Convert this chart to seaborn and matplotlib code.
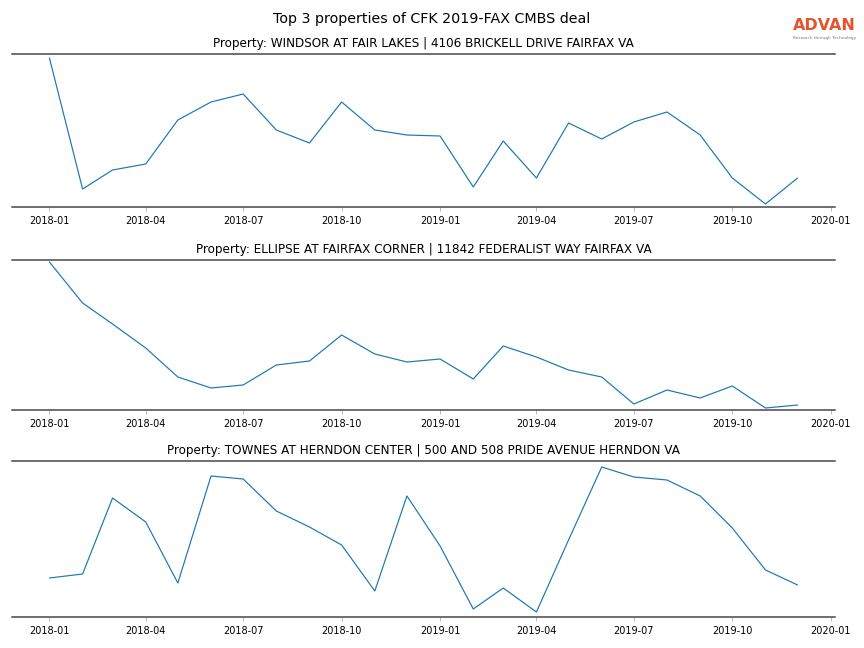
import matplotlib
matplotlib.use("Agg")
import matplotlib.pyplot as plt
import matplotlib.dates as mdates
import pandas as pd
import seaborn as sns

months = pd.date_range("2018-01-01", "2019-12-01", freq="MS")

property_titles = [
    "Property: WINDSOR AT FAIR LAKES | 4106 BRICKELL DRIVE FAIRFAX VA",
    "Property: ELLIPSE AT FAIRFAX CORNER | 11842 FEDERALIST WAY FAIRFAX VA",
    "Property: TOWNES AT HERNDON CENTER | 500 AND 508 PRIDE AVENUE HERNDON VA",
]

windsor_visits = [1490, 180, 370, 430, 870, 1050, 1130, 770, 640, 1050, 770, 720,
                  710, 200, 660, 290, 840, 680, 850, 950, 720, 290, 30, 290]
ellipse_visits = [1480, 1070, 860, 620, 330, 220, 250, 450, 490, 750, 560, 480,
                  510, 310, 640, 530, 400, 330, 60, 200, 120, 240, 20, 50]
townes_visits = [390, 430, 1190, 950, 340, 1410, 1380, 1060, 900, 720, 260, 1210,
                 710, 80, 290, 50, 770, 1500, 1400, 1370, 1210, 890, 470, 320]

# y limits (axes are unlabeled)
y_limits = [(0, 1530), (0, 1500), (0, 1560)]

# axes boxes in pixels: (top, bottom)
W, H = 864, 648
ax_rows = [(54, 207), (260, 410), (461, 617)]
ax_left, ax_right = 12, 835

sns.set_style("white")
plt.rcParams["font.family"] = ["DejaVu Sans"]
plt.rcParams["text.color"] = "black"
plt.rcParams["xtick.color"] = "#aaaaaa"
plt.rcParams["xtick.labelcolor"] = "black"

fig = plt.figure(figsize=(W / 72, H / 72), dpi=72)

series = [windsor_visits, ellipse_visits, townes_visits]
for (top, bottom), title, values, ylim in zip(ax_rows, property_titles, series, y_limits):
    ax = fig.add_axes([ax_left / W, 1 - bottom / H, (ax_right - ax_left) / W, (bottom - top) / H])
    df = pd.DataFrame({"month": months, "visits": values})
    sns.lineplot(data=df, x="month", y="visits", ax=ax, color="#1f77b4", linewidth=1.2)
    ax.set_ylim(*ylim)
    ax.set_yticks([])
    ax.set_xlabel("")
    ax.set_ylabel("")
    ax.set_title(title, fontsize=12, pad=7, color="black")
    ax.xaxis.set_major_locator(mdates.MonthLocator(bymonth=[1, 4, 7, 10]))
    ax.xaxis.set_major_formatter(mdates.DateFormatter("%Y-%m"))
    ax.tick_params(axis="x", labelsize=9.7, length=4, width=0.8, pad=5, bottom=True)
    for side in ["left", "right"]:
        ax.spines[side].set_visible(False)
    for side in ["top", "bottom"]:
        ax.spines[side].set_color("#444444")
        ax.spines[side].set_linewidth(1.5)

fig.suptitle("Top 3 properties of CFK 2019-FAX CMBS deal", fontsize=14.3, y=1 - 19 / H, va="center",
             color="black")

# logo
fig.text(824 / W, 1 - 26 / H, "ADVAN", color="#e2552f", fontsize=16, fontweight="bold",
         ha="center", va="center")
fig.text(825 / W, 1 - 37.5 / H, "Research through Technology", color="#777777", fontsize=4.2,
         ha="center", va="center")

fig.savefig("out.png", dpi=72)
